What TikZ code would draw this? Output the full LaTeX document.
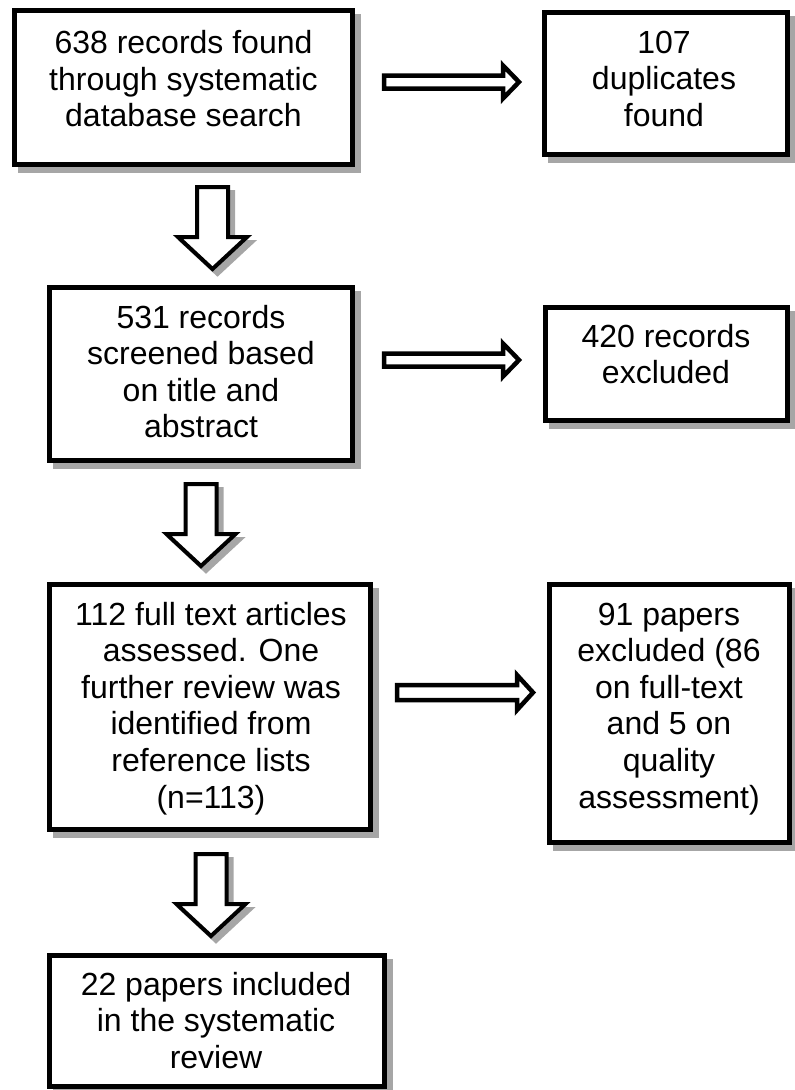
\documentclass[tikz,border=0pt]{standalone}
\usepackage{fontspec}
\setmainfont{Liberation Sans}
\usetikzlibrary{shadows}
\newcommand\ml[1]{\begin{tabular}[t]{@{}c@{}}#1\end{tabular}}
\begin{document}
\begin{tikzpicture}[x=1pt,y=-1pt,
  box/.style={draw=black, fill=white, line width=5pt, rectangle, inner sep=0pt, outer sep=0pt,
    drop shadow={shadow xshift=6pt, shadow yshift=-6pt, fill=gray!70, draw=gray!70, line width=5pt, opacity=1}},
  txt/.style={anchor=base, inner sep=0pt, font=\fontsize{32}{36.6}\selectfont},
  harrow/.style={draw=black, fill=white, line width=4.5pt, line join=miter},
  varrow/.style={draw=black, fill=white, line width=4pt, line join=miter,
    drop shadow={shadow xshift=5pt, shadow yshift=-5pt, fill=gray!70, draw=gray!70, line width=4pt, opacity=1}}]
\useasboundingbox (0,0) rectangle (795,1090);

% boxes
\node[box, minimum width=338pt, minimum height=154pt] (b1) at (183.5,87.5) {};
\node[box, minimum width=243pt, minimum height=142pt] (b2) at (666,83.5) {};
\node[box, minimum width=303pt, minimum height=173pt] (b3) at (201,374) {};
\node[box, minimum width=242pt, minimum height=113pt] (b4) at (666.5,364) {};
\node[box, minimum width=321pt, minimum height=245pt] (b5) at (210,707) {};
\node[box, minimum width=240pt, minimum height=258pt] (b6) at (669.5,713.5) {};
\node[box, minimum width=335pt, minimum height=131pt] (b7) at (217,1021) {};

% texts
\node[txt] (t1) at (183.5,53.5) {\ml{638 records found\\through systematic\\database search}};
\node[txt] (t2) at (664,53) {\ml{107\\duplicates\\found}};
\node[txt] (t3) at (201,328) {\ml{531 records\\screened based\\on title and\\abstract}};
\node[txt] (t4) at (666,347) {\ml{420 records\\excluded}};
\node[txt] (t5) at (211,625) {\ml{112 full text articles\\assessed. One\\further review was\\identified from\\reference lists\\(n=113)}};
\node[txt] (t6) at (669,625) {\ml{91 papers\\excluded (86\\on full-text\\and 5 on\\quality\\assessment)}};
\node[txt] (t7) at (216,995) {\ml{22 papers included\\in the systematic\\review}};

% horizontal block arrows
\coordinate (h1) at (384,82);
\coordinate (h2) at (384,360);
\coordinate (h3) at (397,692.5);
\draw[harrow] (h1) ++(0,-6.5) -- ++(119,0) -- ++(0,-10) -- ++(16,16.5) -- ++(-16,16.5) -- ++(0,-10) -- ++(-119,0) -- cycle;
\draw[harrow] (h2) ++(0,-6.5) -- ++(119,0) -- ++(0,-10) -- ++(16,16.5) -- ++(-16,16.5) -- ++(0,-10) -- ++(-119,0) -- cycle;
\draw[harrow] (h3) ++(0,-7.5) -- ++(120,0) -- ++(0,-10) -- ++(16,17.5) -- ++(-16,17.5) -- ++(0,-10) -- ++(-120,0) -- cycle;

% vertical block arrows
\coordinate (d1) at (212.5,187);
\coordinate (d2) at (201,484);
\coordinate (d3) at (211,854);
\draw[varrow] (d1) ++(-15.5,0) -- ++(31,0) -- ++(0,50) -- ++(19,0) -- ++(-34.5,32) -- ++(-34.5,-32) -- ++(19,0) -- cycle;
\draw[varrow] (d2) ++(-15.5,0) -- ++(31,0) -- ++(0,50) -- ++(19,0) -- ++(-34.5,32) -- ++(-34.5,-32) -- ++(19,0) -- cycle;
\draw[varrow] (d3) ++(-15.5,0) -- ++(31,0) -- ++(0,50) -- ++(19,0) -- ++(-34.5,32) -- ++(-34.5,-32) -- ++(19,0) -- cycle;
\end{tikzpicture}
\end{document}
